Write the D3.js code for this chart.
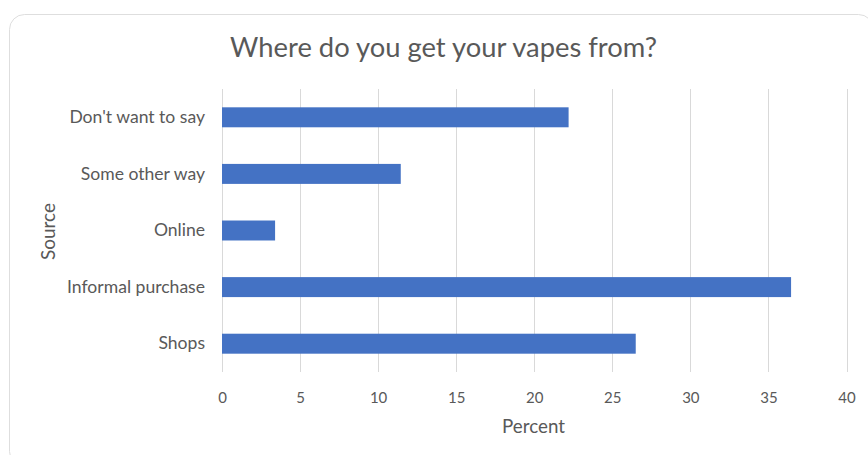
<!DOCTYPE html>
<html><head><meta charset="utf-8">
<script src="https://cdn.jsdelivr.net/npm/d3@7"></script>
<style>html,body{margin:0;padding:0;background:#fff;}svg{display:block;}</style>
</head><body>
<script>
const categories = ["Don't want to say", "Some other way", "Online", "Informal purchase", "Shops"];
const values = [22.2, 11.45, 3.4, 36.45, 26.5];
const xTicks = [0, 5, 10, 15, 20, 25, 30, 35, 40];
const titleText = "Where do you get your vapes from?";
const xTitle = "Percent";
const yTitle = "Source";

const W = 868, H = 455;
const svg = d3.select("body").append("svg").attr("width", W).attr("height", H);
const FONT = "Lato, 'Open Sans', sans-serif";
const TXT = "#595959";

svg.append("rect").attr("x", 9.5).attr("y", 14.5).attr("width", 864).attr("height", 452)
  .attr("rx", 15).attr("fill", "#fff").attr("stroke", "#dedede").attr("stroke-width", 1);

const x = d3.scaleLinear().domain([0, 40]).range([222, 846.5]);
const y = d3.scaleBand().domain(categories).range([89, 372]).paddingInner(0.647).paddingOuter(0.3235);

// gridlines
svg.append("g").selectAll("line").data(xTicks).join("line")
  .attr("x1", d => Math.round(x(d)) + 0.5).attr("x2", d => Math.round(x(d)) + 0.5)
  .attr("y1", 89).attr("y2", 372).attr("stroke", "#d9d9d9").attr("stroke-width", 1);

// bars
svg.append("g").selectAll("rect").data(categories).join("rect")
  .attr("x", x(0)).attr("y", d => y(d)).attr("height", y.bandwidth())
  .attr("width", (d, i) => x(values[i]) - x(0)).attr("fill", "#4472C4");

// x axis tick labels
const xAxis = svg.append("g").attr("transform", "translate(0,372)")
  .call(d3.axisBottom(x).tickValues(xTicks).tickSize(0).tickPadding(0).tickFormat(d3.format("d")));
xAxis.select(".domain").remove();
xAxis.selectAll("text").attr("dy", null).attr("y", 31).attr("fill", TXT)
  .style("font-family", FONT).style("font-size", "15px");

// y axis labels
const yAxis = svg.append("g").attr("transform", "translate(205,0)")
  .call(d3.axisLeft(y).tickSize(0).tickPadding(0));
yAxis.select(".domain").remove();
yAxis.selectAll("text").attr("x", 0).attr("fill", TXT)
  .style("font-family", FONT).style("font-size", "15px");

function fit(sel, target, base) {
  const len = sel.node().getComputedTextLength();
  sel.style("font-size", (base * target / len).toFixed(2) + "px");
}

// title
const t = svg.append("text").attr("x", 443.5).attr("y", 56.5).attr("text-anchor", "middle")
  .attr("fill", TXT).style("font-family", FONT).style("font-weight", 400).style("font-size", "24px").text(titleText);
fit(t, 427, 24);

// axis titles
const xt = svg.append("text").attr("x", 533.5).attr("y", 433).attr("text-anchor", "middle")
  .attr("fill", TXT).style("font-family", FONT).style("font-size", "15px").text(xTitle);
fit(xt, 63, 15);
const yt = svg.append("text").attr("transform", "translate(55,231.5) rotate(-90)").attr("text-anchor", "middle")
  .attr("fill", TXT).style("font-family", FONT).style("font-size", "15px").text(yTitle);
fit(yt, 57, 15);

// category label size fitted to reference width of longest label
const longest = yAxis.selectAll("text").filter(d => d === "Informal purchase");
const len = longest.node().getComputedTextLength();
const fs = (15 * 138 / len).toFixed(2) + "px";
yAxis.selectAll("text").style("font-size", fs);
</script>
</body></html>
